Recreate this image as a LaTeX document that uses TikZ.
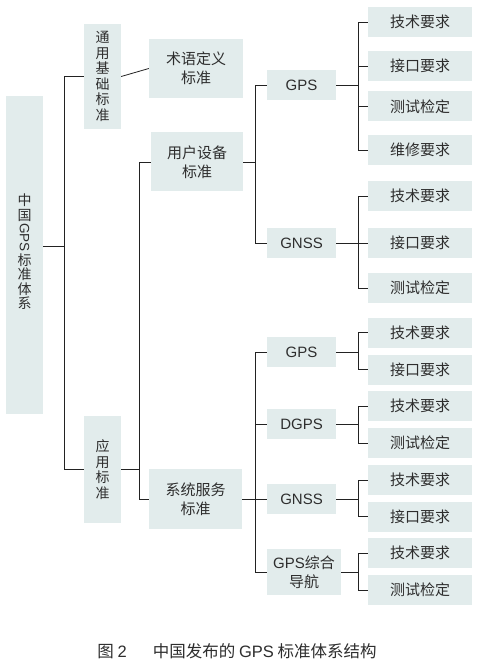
\documentclass[tikz,border=0pt]{standalone}
\usepackage{fontspec}
\setmainfont{Noto Sans CJK SC}
\newfontfamily\latn{Liberation Sans}
\usetikzlibrary{positioning}
\definecolor{stdfill}{HTML}{E2ECEC}
\definecolor{stdink}{HTML}{2E2E2E}
\definecolor{stdline}{HTML}{222222}
\tikzset{
  box/.style={fill=stdfill, inner sep=0pt, align=center, text=stdink, font=\fontsize{15}{19}\selectfont},
  vbox/.style={box, minimum width=37pt, font=\fontsize{14}{15.5}\selectfont},
  vtxt/.style={inner sep=0pt, align=center, text=stdink, font=\fontsize{14}{14.5}\selectfont},
  mid/.style={box, minimum width=69pt, minimum height=30pt},
  leaf/.style={box, minimum width=104pt, minimum height=30pt},
  link/.style={draw=stdline, line width=0.8pt},
}

\begin{document}
\begin{tikzpicture}[x=1pt, y=-1pt]
    \fill[white] (0,0) rectangle (477,668);
    \useasboundingbox (0,0) rectangle (477,668);
    % levels 1 and 2
    \node[vbox, minimum height=318pt] (root) at (24.5,255) {};
    \node[vtxt] (roota) at (24.5,207.5) {中\\国};
    \node[vtxt, rotate=-90, font=\latn\fontsize{13.5}{14}\selectfont] (rootb) at (24.5,237.5) {GPS};
    \node[vtxt] (rootc) at (24.5,281.5) {标\\准\\体\\系};
    \node[vbox, minimum height=105pt] (gen) at (102.5,76.5) {通\\用\\基\\础\\标\\准};
    \node[vbox, minimum height=107pt] (app) at (102.5,469.5) {应\\用\\标\\准};
    \node[box, minimum width=94pt, minimum height=59pt] (term) at (196,68.5) {术语定义\\标准};
    \node[box, minimum width=92pt, minimum height=59pt] (user) at (197,162) {用户设备\\标准};
    \node[box, minimum width=93pt, minimum height=60pt] (sys) at (195.5,499) {系统服务\\标准};
    % user equipment
    \node[mid] (ugps) at (301.5,85) {\latn GPS};
    \node[mid] (ugnss) at (301.5,243) {\latn GNSS};
    \node[leaf] (ua1) at (420,22) {技术要求};
    \node[leaf] (ua2) at (420,66) {接口要求};
    \node[leaf] (ua3) at (420,106.5) {测试检定};
    \node[leaf] (ua4) at (420,150) {维修要求};
    \node[leaf] (ub1) at (420,196) {技术要求};
    \node[leaf] (ub2) at (420,243) {接口要求};
    \node[leaf] (ub3) at (420,288) {测试检定};
    % system service
    \node[mid] (sgps) at (301.5,352) {\latn GPS};
    \node[mid] (sdgps) at (301.5,424) {\latn DGPS};
    \node[mid] (sgnss) at (301.5,499) {\latn GNSS};
    \node[mid, minimum width=74pt, minimum height=46pt] (snav) at (304,572) {{\latn GPS}综合\\导航};
    \node[leaf] (sa1) at (420,332.5) {技术要求};
    \node[leaf] (sa2) at (420,369.5) {接口要求};
    \node[leaf] (sb1) at (420,406) {技术要求};
    \node[leaf] (sb2) at (420,443) {测试检定};
    \node[leaf] (sc1) at (420,480) {技术要求};
    \node[leaf] (sc2) at (420,516.5) {接口要求};
    \node[leaf] (sd1) at (420,553) {技术要求};
    \node[leaf] (sd2) at (420,590) {测试检定};
    % fork columns
    \coordinate (rj) at (64,246);
    \coordinate (aj) at (139,0);
    \coordinate (uj) at (255,0);
    \coordinate (lj) at (358,0);
    \draw[link] (rj -| root.east) -- (rj);
    \draw[link] (gen.west) -- (rj |- gen.west) -- (rj |- app.west) -- (app.west);
    \draw[link] (gen.east) -- (term.west);
    \draw[link] (app.east) -- (aj |- app.east);
    \draw[link] (user.west) -- (aj |- user.west) -- (aj |- sys.west) -- (sys.west);
    \draw[link] (user.east) -- (uj |- user.east);
    \draw[link] (ugps.west) -- (uj |- ugps.west) -- (uj |- ugnss.west) -- (ugnss.west);
    \draw[link] (sys.east) -- (sgnss.west);
    \draw[link] (sgps.west) -- (uj |- sgps.west) -- (uj |- snav.west) -- (snav.west);
    \draw[link] (sdgps.west) -- (uj |- sdgps.west);
    % leaves
    \draw[link] (ugps.east) -- (lj |- ugps.east);
    \draw[link] (ua1.west) -- (lj |- ua1.west) -- (lj |- ua4.west) -- (ua4.west);
    \draw[link] (ua2.west) -- (lj |- ua2.west);
    \draw[link] (ua3.west) -- (lj |- ua3.west);
    \draw[link] (ugnss.east) -- (ub2.west);
    \draw[link] (ub1.west) -- (lj |- ub1.west) -- (lj |- ub3.west) -- (ub3.west);
    \draw[link] (sgps.east) -- (lj |- sgps.east);
    \draw[link] (sa1.west) -- (lj |- sa1.west) -- (lj |- sa2.west) -- (sa2.west);
    \draw[link] (sdgps.east) -- (lj |- sdgps.east);
    \draw[link] (sb1.west) -- (lj |- sb1.west) -- (lj |- sb2.west) -- (sb2.west);
    \draw[link] (sgnss.east) -- (lj |- sgnss.east);
    \draw[link] (sc1.west) -- (lj |- sc1.west) -- (lj |- sc2.west) -- (sc2.west);
    \draw[link] (snav.east) -- (lj |- snav.east);
    \draw[link] (sd1.west) -- (lj |- sd1.west) -- (lj |- sd2.west) -- (sd2.west);
    % caption
    \node[text=stdink, font=\fontsize{16.5}{19}\selectfont] (cap) at (237,651) {图 {\latn 2}\hspace{26pt}中国发布的 {\latn GPS} 标准体系结构};
\end{tikzpicture}
\end{document}
